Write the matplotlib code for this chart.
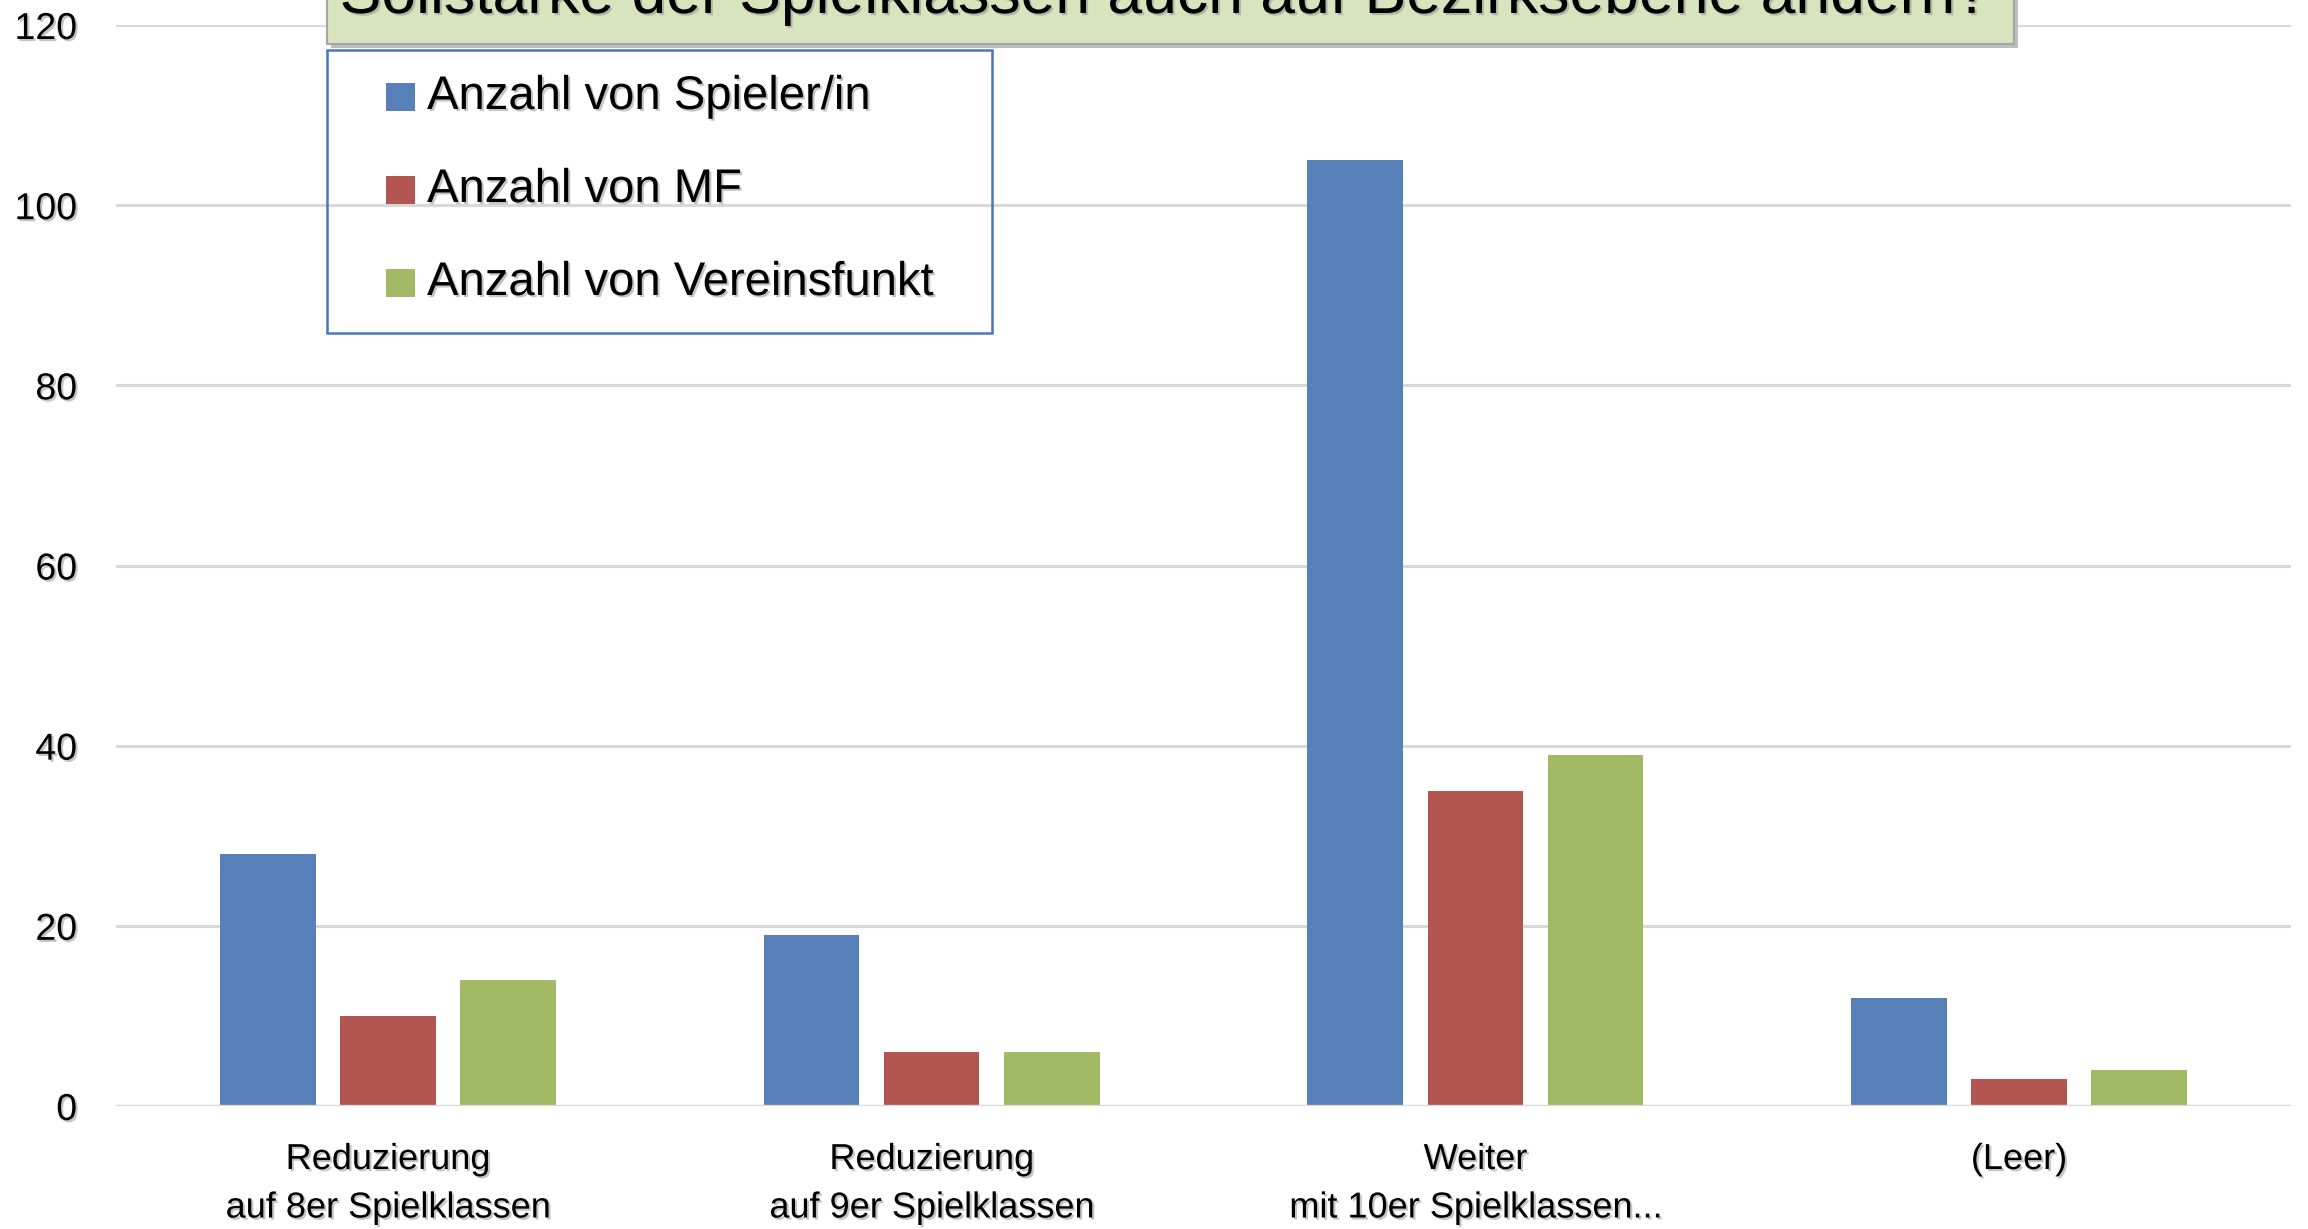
import matplotlib
matplotlib.use("Agg")
import matplotlib.pyplot as plt
import matplotlib.patheffects as pe
import matplotlib.transforms as mtransforms
from matplotlib import font_manager
from matplotlib.patches import Rectangle
import numpy as np

# Daten
kategorien = ["Reduzierung\nauf 8er Spielklassen",
              "Reduzierung\nauf 9er Spielklassen",
              "Weiter\nmit 10er Spielklassen...",
              "(Leer)"]
serien = ["Anzahl von Spieler/in", "Anzahl von MF", "Anzahl von Vereinsfunkt"]
spieler = [28, 19, 105, 12]
mf = [10, 6, 35, 3]
vereinsfunkt = [14, 6, 39, 4]
y_ticks = [0, 20, 40, 60, 80, 100, 120]
titel = "Sollstärke der Spielklassen auch auf Bezirksebene ändern?"

farben = ["#5880B8", "#B35651", "#A2B966"]

# Schrift
verfuegbar = {f.name for f in font_manager.fontManager.ttflist}
FONT = "Liberation Sans Narrow" if "Liberation Sans Narrow" in verfuegbar else "Liberation Sans"
plt.rcParams["font.family"] = [FONT, "DejaVu Sans"]

W, H = 2308, 1229
def fx(x):
    return x / W
def fy(y):
    return 1 - y / H

schatten = [pe.SimplePatchShadow(offset=(1.5, -1.5), shadow_rgbFace="0.55", alpha=0.5), pe.Normal()]

fig = plt.figure(figsize=(W / 100, H / 100), dpi=100)
ax = fig.add_axes([fx(116), fy(1106), fx(2291) - fx(116), fy(25) - fy(1106)])

x = np.arange(len(kategorien))
breite = 0.176
abstand = 0.221
for i, (werte, name) in enumerate(zip([spieler, mf, vereinsfunkt], serien)):
    ax.bar(x + (i - 1) * abstand, werte, breite, color=farben[i], label=name, zorder=3)

ax.set_xlim(-0.5, len(kategorien) - 0.5)
ax.set_ylim(0, 120)
ax.set_yticks(y_ticks)
ax.set_yticklabels([str(t) for t in y_ticks], fontsize=27, path_effects=schatten)
ax.tick_params(axis="y", length=0, pad=28)
ax.set_xticks([])
ax.yaxis.grid(True, color="#D9D9D9", linewidth=2.2, zorder=0)
ax.set_axisbelow(True)
for s in ax.spines.values():
    s.set_visible(False)
ax.axhline(0, color="#D9D9D9", linewidth=2.4, zorder=4)

# Kategorien unter der Achse
trans = mtransforms.blended_transform_factory(ax.transData, fig.transFigure)
for xi, lab in zip(x, kategorien):
    ax.text(xi, fy(1142), lab, transform=trans, ha="center", va="top",
            fontsize=26, linespacing=1.5, path_effects=schatten)

# Titelbox (oben abgeschnitten)
fig.patches.append(Rectangle((fx(331), fy(48)), fx(2018) - fx(331), 0.1, transform=fig.transFigure,
                             facecolor="#BFBFBF", edgecolor="none", zorder=5))
fig.patches.append(Rectangle((fx(327), fy(44)), fx(2014) - fx(327), 0.1, transform=fig.transFigure,
                             facecolor="#D8E4BD", edgecolor="#A6A6A6", linewidth=1.5, zorder=6))
fig.text(fx(1165), fy(13), titel, ha="center", va="baseline", fontsize=45, zorder=7,
         path_effects=schatten)

# Legende
fig.patches.append(Rectangle((fx(327), fy(333)), fx(992) - fx(327), fy(50) - fy(333), transform=fig.transFigure,
                             facecolor="none", edgecolor="#4A76BE", linewidth=1.8, zorder=6))
zeilen_y = [97, 190, 283]
for name, farbe, zy in zip(serien, farben, zeilen_y):
    fig.patches.append(Rectangle((fx(386), fy(zy + 14)), fx(415) - fx(386), fy(zy - 14) - fy(zy + 14),
                                 transform=fig.transFigure, facecolor=farbe, edgecolor="none", zorder=7))
    fig.text(fx(427), fy(zy), name, ha="left", va="center", fontsize=34, zorder=7, path_effects=schatten)

fig.savefig("out.png", dpi=100)
